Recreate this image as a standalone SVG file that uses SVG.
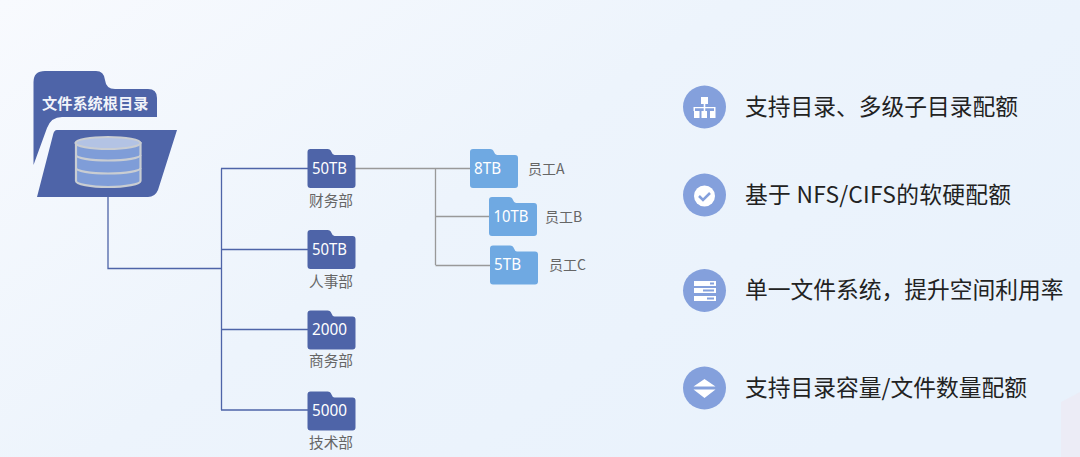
<svg xmlns="http://www.w3.org/2000/svg" width="1080" height="457" viewBox="0 0 1080 457">
<defs>
<linearGradient id="bg" x1="0" y1="0" x2="1" y2="0.6"><stop offset="0" stop-color="#f8fafe"/><stop offset="0.5" stop-color="#edf4fc"/><stop offset="1" stop-color="#e9f2fc"/></linearGradient>
<path id="fld" d="M0 3Q0 0 3 0H20Q23 0 24 3T27 6H45Q48 6 48 9V36Q48 39 45 39H3Q0 39 0 36Z"/>
</defs>
<style>
.cn{font-family:"Noto Sans CJK SC","Liberation Sans",sans-serif}
.num{font-family:"Noto Sans","Noto Sans CJK SC",sans-serif;font-size:16px;fill:#fff}
.lbl{font-family:"Noto Sans CJK SC",sans-serif;font-size:14.700px;fill:#666;text-anchor:middle}
.emp{font-family:"Noto Sans CJK SC","DejaVu Sans Mono",sans-serif;font-size:14px;fill:#666}
.big{font-family:"Noto Sans CJK SC","Noto Sans",sans-serif;font-size:22.750px;fill:#222}
.dk{fill:#4e64a8}.lt{fill:#6fa9e2}.ico{fill:#84a0dc}.w{fill:#fff}
.blue{stroke:#4e64a8;stroke-width:1.3;fill:none}.gray{stroke:#999;stroke-width:1.3;fill:none}
</style>
<rect width="1080" height="457" fill="url(#bg)"/>
<path d="M1061 402L1080 392V457H1061Z" fill="#ece9f3" opacity=".7"/>
<g id="connectors">
<path class="blue" d="M108 187V268.500H221M221.500 168.500V410M221 168.500H308M221 249.500H308M221 329.500H308M221 410H308"/>
<path class="gray" d="M355 168.500H471M435.500 168.500V265M435.500 216.500H489M435.500 265.500H490"/>
</g>
<g id="root">
<path class="dk" d="M33.500 165V82Q33.500 71 45 71H96Q104 71 105 80Q106 89 115 89H148Q157 89 157 98V117H62Q51 117 47 128Z"/>
<path class="dk" d="M57 130H177L158 190Q155 197 148 197H37L53 135Q54 130 57 130Z"/>
<text class="cn" x="42" y="109" font-size="15.200" font-weight="700" fill="#f2f4fa">文件系统根目录</text>
<path d="M76 143V181C76 184 90 187 108 187S140.500 184 140.500 181V143Z" fill="#7f9dd8" stroke="#c9cdd2" stroke-width="2.200"/>
<ellipse cx="108" cy="143" rx="32.500" ry="6" fill="#b3c3e4" stroke="#c9cdd2" stroke-width="2.200"/>
<path d="M76 155C76 158 90 160.500 108 160.500S140.500 158 140.500 155M76 168C76 171 90 173.500 108 173.500S140.500 171 140.500 168" fill="none" stroke="#c9cdd2" stroke-width="2.200"/>
</g>
<g id="dept-finance"><use href="#fld" x="307.500" y="149" class="dk"/><text class="num" x="312" y="174" textLength="35" lengthAdjust="spacingAndGlyphs">50TB</text><text class="lbl" x="331" y="206">财务部</text></g>
<g id="dept-hr"><use href="#fld" x="307.500" y="230" class="dk"/><text class="num" x="312" y="255" textLength="35" lengthAdjust="spacingAndGlyphs">50TB</text><text class="lbl" x="331" y="287">人事部</text></g>
<g id="dept-sales"><use href="#fld" x="307.500" y="310.500" class="dk"/><text class="num" x="312" y="335" textLength="35" lengthAdjust="spacingAndGlyphs">2000</text><text class="lbl" x="331" y="366">商务部</text></g>
<g id="dept-tech"><use href="#fld" x="307.500" y="391.500" class="dk"/><text class="num" x="312" y="416" textLength="35" lengthAdjust="spacingAndGlyphs">5000</text><text class="lbl" x="331" y="448">技术部</text></g>
<g id="emp-a"><use href="#fld" x="470" y="149" class="lt"/><text class="num" x="474" y="174" textLength="27" lengthAdjust="spacingAndGlyphs">8TB</text><text class="emp" x="528" y="174">员工A</text></g>
<g id="emp-b"><use href="#fld" x="489" y="197" class="lt"/><text class="num" x="493.500" y="222" textLength="35" lengthAdjust="spacingAndGlyphs">10TB</text><text class="emp" x="545" y="222">员工B</text></g>
<g id="emp-c"><use href="#fld" x="490" y="245.500" class="lt"/><text class="num" x="494" y="270" textLength="27" lengthAdjust="spacingAndGlyphs">5TB</text><text class="emp" x="549" y="270">员工C</text></g>
<g id="feature-1"><circle class="ico" cx="704.500" cy="107" r="21.500"/>
<path class="w" d="M701 97H708V104H705.300V107H715.500V111H714V108.300H705.300V111H703.700V108.300H695V111H693.500V107H703.700V104H701Z"/>
<rect class="w" x="694" y="111" width="5.500" height="7"/><rect class="w" x="701.500" y="111" width="5.500" height="7"/><rect class="w" x="710" y="111" width="5.500" height="7"/>
<text class="big" x="745" y="115">支持目录、多级子目录配额</text></g>
<g id="feature-2"><circle class="ico" cx="704.500" cy="195" r="21.500"/><circle class="w" cx="704.500" cy="196" r="10.500"/><path d="M699 196L703 200L710 193" fill="none" stroke="#84a0dc" stroke-width="2.500"/>
<text class="big" x="745" y="203" textLength="266">基于 NFS/CIFS的软硬配额</text></g>
<g id="feature-3"><circle class="ico" cx="704.500" cy="290.500" r="21.500"/>
<rect class="w" x="694" y="281" width="22" height="5"/><rect class="w" x="694" y="288" width="22" height="5"/><rect class="w" x="694" y="296" width="22" height="5"/>
<rect class="ico" x="710" y="282.500" width="4" height="2"/><rect class="ico" x="703" y="289.500" width="11" height="2"/><rect class="ico" x="707" y="297.500" width="7" height="2"/>
<text class="big" x="745" y="298">单一文件系统，提升空间利用率</text></g>
<g id="feature-4"><circle class="ico" cx="704.500" cy="388" r="21.500"/><path class="w" d="M704.500 379L693.500 386.500H715.500ZM693.500 389.500H715.500L704.500 398Z"/>
<text class="big" x="745" y="396">支持目录容量/文件数量配额</text></g>
</svg>
